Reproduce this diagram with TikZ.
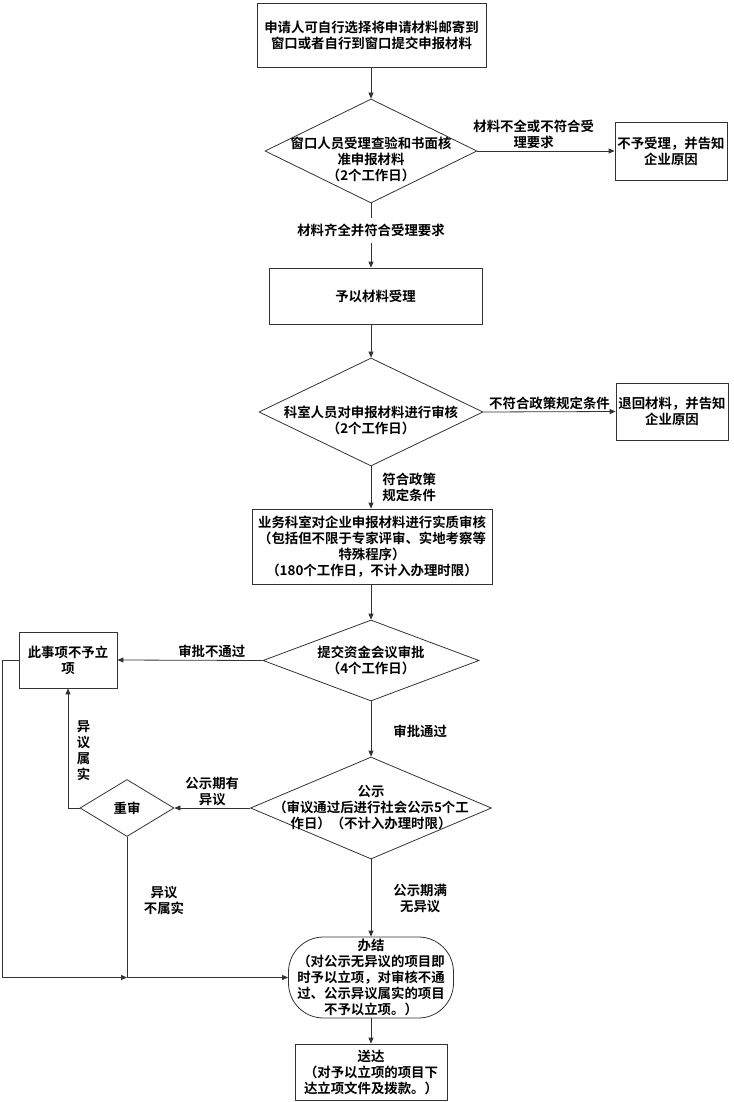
\documentclass[tikz,border=0pt]{standalone}
\usepackage{fontspec}
\setmainfont{Noto Sans CJK SC}[BoldFont=* Bold]
\usetikzlibrary{shapes.geometric,arrows.meta}
\tikzset{
  words/.style={font=\fontsize{13.4pt}{16pt}\selectfont\bfseries, align=center, inner sep=2pt},
  flowbox/.style={words, draw=black!80, line width=0.8pt, rectangle, inner sep=0pt},
  decide/.style={draw=black!80, line width=0.8pt, diamond, inner sep=0pt},
  arr/.style={draw=black!80, line width=0.8pt, -{Triangle[length=6pt,width=5pt]}},
}

\begin{document}
\begin{tikzpicture}[x=1pt,y=-1pt]%
\useasboundingbox (0,0) rectangle (733,1102);%
\node[flowbox, minimum width=229pt, minimum height=64pt] (apply) at (371.5,35) {申请人可自行选择将申请材料邮寄到\\窗口或者自行到窗口提交申报材料};%
\node[decide, minimum width=212pt, minimum height=104pt] (check) at (371,151) {};%
\node[words] (checktxt) at ([yshift=-8pt]check.center) {窗口人员受理查验和书面核\\准申报材料\\（2个工作日）};%
\node[flowbox, minimum width=112pt, minimum height=58pt] (refuse) at (671,151) {不予受理，并告知\\企业原因};%
\node[flowbox, minimum width=213pt, minimum height=56pt] (accept) at (375.5,296) {予以材料受理};%
\node[decide, minimum width=224pt, minimum height=108pt] (verify) at (371,412) {};%
\node[words] (verifytxt) at ([yshift=-8pt]verify.center) {科室人员对申报材料进行审核\\（2个工作日）};%
\node[flowbox, minimum width=112pt, minimum height=57pt] (sendback) at (672,411.5) {退回材料，并告知\\企业原因};%
\node[flowbox, minimum width=240pt, minimum height=75pt] (substance) at (372,546.5) {业务科室对企业申报材料进行实质审核\\（包括但不限于专家评审、实地考察等\\特殊程序）\\（180个工作日，不计入办理时限）};%
\node[decide, minimum width=216pt, minimum height=81pt] (meeting) at (371,660.5) {};%
\node[words] (meetingtxt) at (meeting.center) {提交资金会议审批\\（4个工作日）};%
\node[flowbox, minimum width=98pt, minimum height=56pt] (nogo) at (68,660) {此事项不予立\\项};%
\node[decide, minimum width=241pt, minimum height=102pt] (publish) at (371,808) {};%
\node[words] (publishtxt) at (publish.center) {公示\\（审议通过后进行社会公示5个工\\作日）（不计入办理时限）};%
\node[decide, minimum width=94pt, minimum height=57pt] (recheck) at (127,808) {};%
\node[words] (rechecktxt) at (recheck.center) {重审};%
\node[flowbox, rounded corners=35pt, minimum width=165pt, minimum height=81pt] (finish) at (371,977.5) {办结\\（对公示无异议的项目即\\时予以立项，对审核不通\\过、公示异议属实的项目\\不予以立项。）};%
\node[flowbox, minimum width=152pt, minimum height=56pt] (deliver) at (371,1072) {送达\\（对予以立项的项目下\\达立项文件及拨款。）};%
\draw[arr] (check.north |- apply.south) -- (check.north);%
\draw[arr] (check.east) -- node[words, above, pos=0.41] {材料不全或不符合受\\理要求} (refuse.west);%
\draw[arr] (check.south) -- node[words, fill=white, pos=0.42, inner ysep=6pt] {材料齐全并符合受理要求} (check.south |- accept.north);%
\draw[arr] (verify.north |- accept.south) -- (verify.north);%
\draw[arr] (verify.east) -- node[words, above] {不符合政策规定条件} (sendback.west);%
\draw[arr] (verify.south) -- node[words, right, xshift=9pt] {符合政策\\规定条件} (verify.south |- substance.north);%
\draw[arr] (meeting.north |- substance.south) -- (meeting.north);%
\draw[arr] (meeting.west) -- node[words, above, pos=0.35] {审批不通过} (nogo.east);%
\draw[arr] (meeting.south) -- node[words, right, xshift=20pt, pos=0.55] {审批通过} (publish.north);%
\draw[arr] (publish.west) -- node[words, above] {公示期有\\异议} (recheck.east);%
\draw[arr] (recheck.west) -| node[words, right, pos=0.74, xshift=6.5pt] {异\\议\\属\\实} (nogo.south);%
\coordinate (meet) at (recheck.south |- finish.west);%
\draw[arr] (nogo.west) -- ++(-16,0) |- (meet);%
\draw[arr] (recheck.south) |- node[words, right, pos=0.225, xshift=14.5pt] {异议\\不属实} (finish.west);%
\draw[arr] (publish.south) -- node[words, right, xshift=20pt] {公示期满\\无异议} (finish.north);%
\draw[arr] (finish.south) -- (deliver.north);%
\end{tikzpicture}
\end{document}
